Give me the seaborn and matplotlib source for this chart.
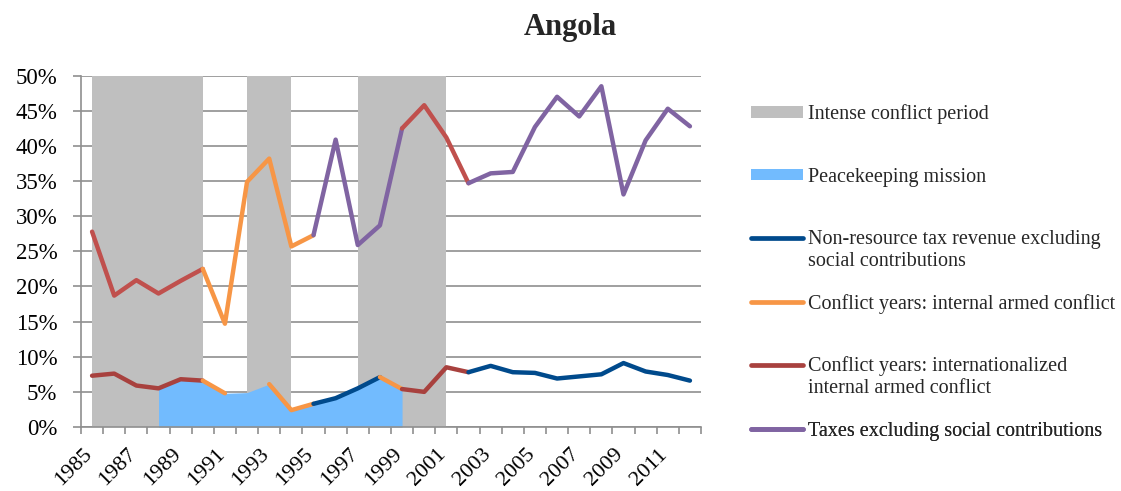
import numpy as np
import matplotlib
matplotlib.use("Agg")
import matplotlib.pyplot as plt
import matplotlib.patches as mpatches
import matplotlib.transforms as mtransforms
from matplotlib.lines import Line2D
from matplotlib.legend_handler import HandlerLine2D
import seaborn as sns

# === data ===
years = list(range(1985, 2013))
# taxes excluding social contributions (upper line), % of GDP
taxes = [27.8, 18.7, 20.9, 19.0, 20.8, 22.5, 14.7, 34.9, 38.2, 25.7,
         27.3, 40.9, 25.9, 28.7, 42.5, 45.8, 41.2, 34.7, 36.1, 36.3,
         42.7, 47.0, 44.2, 48.5, 33.1, 40.8, 45.3, 42.8]
# non-resource tax revenue excluding social contributions (lower line)
nonres = [7.3, 7.6, 5.9, 5.5, 6.8, 6.6, 4.8, 4.9, 6.1, 2.4,
          3.3, 4.1, 5.5, 7.1, 5.4, 5.0, 8.5, 7.8, 8.7, 7.8,
          7.7, 6.9, 7.2, 7.5, 9.1, 7.9, 7.4, 6.6]

conflict_periods = [(1985, 1990), (1992, 1994), (1997, 2001)]
peacekeeping = (1988, 1999)

# which series colours each stretch of the two lines
upper_segments = [(1985, 1990, "intl_up"), (1990, 1995, "internal"), (1995, 1999, "taxes"),
                  (1999, 2002, "intl_up"), (2002, 2012, "taxes")]
lower_segments = [(1985, 1990, "intl"), (1990, 1991, "internal"), (1993, 1995, "internal"),
                  (1995, 1998, "nonres"), (1998, 1999, "internal"), (1999, 2002, "intl"),
                  (2002, 2012, "nonres")]

colors = {
    "conflict": "#BFBFBF",
    "peace": "#72BBFE",
    "nonres": "#004A8C",
    "internal": "#F79646",
    "intl": "#A8413E",
    "intl_up": "#C0504D",
    "taxes": "#8064A2",
}

legend_items = [
    ("conflict", "Intense conflict period", "patch"),
    ("peace", "Peacekeeping mission", "patch"),
    ("nonres", "Non-resource tax revenue excluding\nsocial contributions", "line"),
    ("internal", "Conflict years: internal armed conflict", "line"),
    ("intl", "Conflict years: internationalized\ninternal armed conflict", "line"),
    ("taxes", "Taxes excluding social contributions", "line"),
]
# vertical centre of each legend entry's first line, in pixels from the top
legend_rows = [111, 174, 238, 301, 365, 428]

# === style ===
sns.set_theme(style="white")
plt.rcParams["font.family"] = ["Liberation Serif", "DejaVu Serif"]
grid_col = "#8F8F8F"
W, H = 1121, 491

fig = plt.figure(figsize=(W / 100, H / 100), dpi=100)
ax = fig.add_axes([81 / W, 64 / H, 620 / W, 351.3 / H])

# === background bands ===
for start, end in conflict_periods:
    ax.axvspan(start, end, color=colors["conflict"], lw=0, zorder=1)

yr = np.array(years)
nr = np.array(nonres)
mask = (yr >= peacekeeping[0]) & (yr <= peacekeeping[1])
ax.fill_between(yr[mask], 0, nr[mask], color=colors["peace"], lw=0, zorder=1.5)

# === lines ===
def draw_segments(values, segments):
    vals = np.array(values)
    for start, end, key in segments:
        m = (yr >= start) & (yr <= end)
        sns.lineplot(x=yr[m], y=vals[m], ax=ax, color=colors[key], linewidth=3.2,
                     solid_capstyle="round", solid_joinstyle="round", zorder=3)

draw_segments(taxes, upper_segments)
draw_segments(nonres, lower_segments)

# === axes ===
ax.set_xlim(1984.5, 2012.5)
ax.set_ylim(0, 50)
ax.set_yticks(np.arange(0, 51, 5))
ax.set_yticklabels([f"{v}%" for v in range(0, 51, 5)])
ax.set_xticks(years[::2])
ax.set_xticklabels([str(y) for y in years[::2]], rotation=45, ha="right", va="top")
ax.set_xticks(np.arange(1984.5, 2013, 1), minor=True)
ax.set_xlabel("")
ax.set_ylabel("")

ax.set_axisbelow(True)
ax.yaxis.grid(True, color=grid_col, lw=1.2)
ax.xaxis.grid(False)
for side in ["top", "right"]:
    ax.spines[side].set_visible(False)
for side in ["left", "bottom"]:
    ax.spines[side].set_color(grid_col)
    ax.spines[side].set_linewidth(1.2)

ax.tick_params(axis="y", which="major", direction="out", length=6, width=1.2,
               color=grid_col, pad=11, labelsize=16.5, labelcolor="#000000", left=True)
ax.tick_params(axis="x", which="major", length=0, pad=13, labelsize=16,
               labelcolor="#000000", bottom=True)
ax.tick_params(axis="x", which="minor", direction="out", length=5, width=1.2,
               color=grid_col, bottom=True)
shift = mtransforms.ScaledTranslation(4 / 100, 0, fig.dpi_scale_trans)
for lbl in ax.get_xticklabels():
    lbl.set_transform(lbl.get_transform() + shift)

fig.suptitle("Angola", x=570 / W, y=1 - 35 / H, va="baseline", ha="center",
             fontsize=22, fontweight="bold")


# === legend (one entry per box so rows sit where they do in the original) ===
class RaisedLine(HandlerLine2D):
    def __init__(self, lift, **kw):
        super().__init__(**kw)
        self.lift = lift

    def create_artists(self, *args, **kwargs):
        arts = super().create_artists(*args, **kwargs)
        for a in arts:
            a.set_ydata(np.asarray(a.get_ydata()) + self.lift)
        return arts


fs = 14.5
line_px = 24.5
for (key, label, kind), row in zip(legend_items, legend_rows):
    n_lines = label.count("\n") + 1
    if n_lines == 1:
        yc = row + 3
    else:
        yc = row + (n_lines - 1) * line_px / 2
    if kind == "patch":
        handle = mpatches.Patch(facecolor=colors[key], edgecolor="none")
        hmap = None
        hh = 0.5
    else:
        handle = Line2D([], [], color=colors[key], lw=3.4, solid_capstyle="round")
        hmap = {handle: RaisedLine((n_lines - 1) * line_px / 2 * 0.72)}
        hh = 0.7
    leg = ax.legend([handle], [label], loc="center left",
                    bbox_to_anchor=(751 / W, 1 - yc / H), bbox_transform=fig.transFigure,
                    frameon=False, fontsize=fs, handlelength=2.6, handleheight=hh,
                    handletextpad=0.25, borderpad=0, borderaxespad=0,
                    handler_map=hmap)
    for t in leg.get_texts():
        t.set_linespacing(1.2)
    ax.add_artist(leg)

fig.savefig("out.png", dpi=100)
